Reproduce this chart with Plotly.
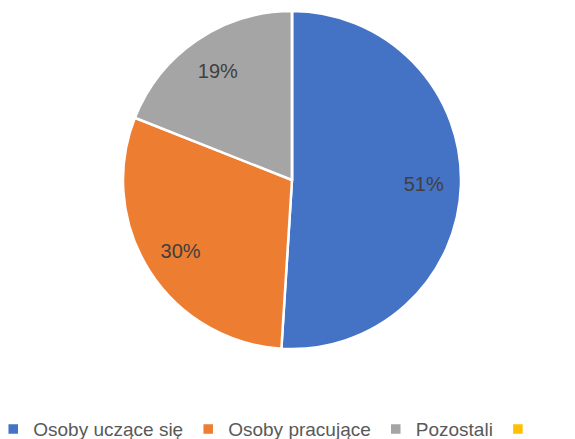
import plotly.graph_objects as go

labels = ["Osoby uczące się", "Osoby pracujące", "Pozostali", " "]
values = [51, 30, 19, 0]
colors = ["#4472C4", "#ED7D31", "#A5A5A5", "#FFC000"]
text_labels = ["51%", "30%", "19%", ""]

fig = go.Figure()

# full pie with slices
fig.add_trace(go.Pie(
    labels=labels,
    values=values,
    textinfo="none",
    sort=False,
    direction="clockwise",
    rotation=0,
    marker=dict(colors=colors, line=dict(color="white", width=2.5)),
    hoverinfo="label+percent",
    showlegend=True,
))

# transparent ring carrying the percentage labels further out
fig.add_trace(go.Pie(
    labels=labels,
    values=values,
    text=text_labels,
    textinfo="text",
    textposition="inside",
    insidetextorientation="horizontal",
    hole=0.56,
    sort=False,
    direction="clockwise",
    rotation=0,
    marker=dict(colors=["rgba(0,0,0,0)"] * 4, line=dict(width=0)),
    textfont=dict(family="Liberation Sans", size=20, color="#404040"),
    hoverinfo="skip",
    showlegend=False,
))

fig.update_layout(
    width=575, height=439,
    margin=dict(l=0, r=7, t=3, b=98, autoexpand=False),
    paper_bgcolor="white",
    plot_bgcolor="white",
    showlegend=True,
    legend=dict(
        orientation="h",
        yref="paper",
        xref="paper",
        x=-0.026, y=-0.181, xanchor="left", yanchor="top",
        font=dict(family="Liberation Sans", size=19, color="#595959"),
        traceorder="normal",
    ),
)

fig.write_html("out.html")
